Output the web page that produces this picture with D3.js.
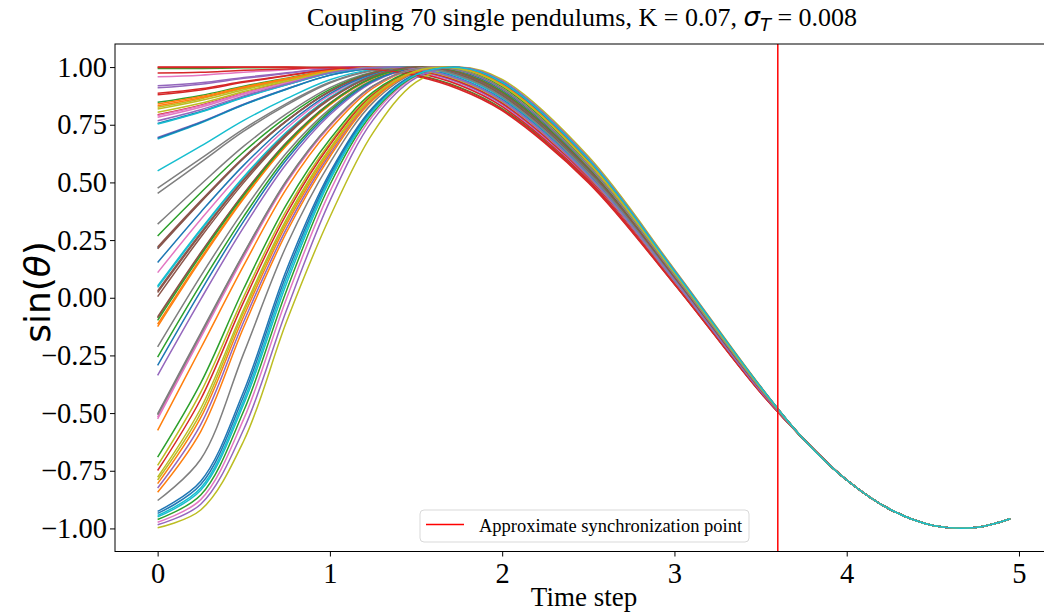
<!DOCTYPE html>
<html>
<head>
<meta charset="utf-8">
<script src="https://cdn.jsdelivr.net/npm/d3@7"></script>
<style>
  html, body { margin: 0; padding: 0; background: #fff; }
  svg { display: block; }
</style>
</head>
<body>
<svg id="chart"></svg>
<script>
// sample times
var headTimes = [0, 0.25, 0.5, 0.75, 1, 1.25, 1.5, 1.75, 2, 2.5, 3, 3.5];
var tailTimes = [3.75, 4, 4.25, 4.5, 4.75, 4.95];

// after ~3.6 every pendulum sits on the same curve
var tailValues = [-0.613, -0.790, -0.917, -0.987, -0.996, -0.958];

// sin(theta) of each pendulum at headTimes (70 rows, plot order)
var pendulumValues = [
  [0.215, 0.416, 0.606, 0.768, 0.895, 0.974, 1.000, 0.969, 0.880, 0.551, 0.087, -0.399],
  [-0.575, -0.219, 0.140, 0.475, 0.729, 0.909, 0.992, 0.988, 0.909, 0.576, 0.101, -0.393],
  [0.847, 0.877, 0.917, 0.952, 0.986, 0.999, 0.989, 0.941, 0.847, 0.525, 0.072, -0.406],
  [0.886, 0.906, 0.937, 0.964, 0.991, 1.000, 0.987, 0.937, 0.843, 0.522, 0.071, -0.406],
  [-0.336, -0.007, 0.306, 0.583, 0.793, 0.935, 0.997, 0.983, 0.900, 0.568, 0.096, -0.395],
  [0.023, 0.275, 0.509, 0.709, 0.863, 0.962, 1.000, 0.974, 0.887, 0.557, 0.090, -0.398],
  [0.109, 0.339, 0.553, 0.736, 0.878, 0.967, 1.000, 0.972, 0.884, 0.554, 0.089, -0.398],
  [-0.213, 0.094, 0.379, 0.630, 0.819, 0.945, 0.998, 0.980, 0.896, 0.564, 0.094, -0.396],
  [-0.727, -0.410, 0.005, 0.382, 0.672, 0.884, 0.986, 0.992, 0.917, 0.583, 0.105, -0.392],
  [0.051, 0.297, 0.525, 0.719, 0.868, 0.964, 1.000, 0.973, 0.886, 0.556, 0.090, -0.398],
  [0.756, 0.807, 0.870, 0.924, 0.974, 0.997, 0.993, 0.947, 0.854, 0.531, 0.075, -0.404],
  [0.840, 0.872, 0.914, 0.950, 0.985, 0.999, 0.989, 0.941, 0.848, 0.526, 0.073, -0.406],
  [-0.257, 0.058, 0.353, 0.613, 0.810, 0.942, 0.998, 0.981, 0.897, 0.565, 0.095, -0.396],
  [-0.749, -0.440, -0.017, 0.366, 0.662, 0.880, 0.985, 0.992, 0.918, 0.584, 0.105, -0.391],
  [0.919, 0.932, 0.955, 0.975, 0.995, 1.000, 0.984, 0.933, 0.839, 0.519, 0.069, -0.407],
  [0.212, 0.414, 0.605, 0.767, 0.894, 0.973, 1.000, 0.969, 0.881, 0.551, 0.087, -0.399],
  [-0.517, -0.165, 0.183, 0.504, 0.746, 0.916, 0.993, 0.987, 0.907, 0.574, 0.100, -0.394],
  [0.475, 0.603, 0.732, 0.843, 0.934, 0.987, 0.999, 0.961, 0.870, 0.543, 0.082, -0.401],
  [0.826, 0.862, 0.907, 0.946, 0.983, 0.999, 0.990, 0.942, 0.849, 0.527, 0.073, -0.405],
  [-0.944, -0.825, -0.445, 0.085, 0.521, 0.815, 0.967, 0.998, 0.933, 0.599, 0.114, -0.387],
  [-0.926, -0.795, -0.405, 0.125, 0.542, 0.826, 0.970, 0.997, 0.931, 0.597, 0.113, -0.388],
  [-0.115, 0.171, 0.435, 0.664, 0.838, 0.953, 0.999, 0.977, 0.892, 0.561, 0.092, -0.397],
  [0.994, 0.994, 0.997, 0.998, 0.998, 0.992, 0.968, 0.913, 0.820, 0.505, 0.061, -0.410],
  [1.000, 1.000, 1.000, 0.999, 0.994, 0.986, 0.960, 0.904, 0.811, 0.499, 0.058, -0.412],
  [-0.825, -0.550, -0.103, 0.303, 0.622, 0.862, 0.980, 0.994, 0.923, 0.588, 0.108, -0.390],
  [-0.083, 0.195, 0.452, 0.675, 0.844, 0.955, 0.999, 0.977, 0.891, 0.560, 0.092, -0.397],
  [0.958, 0.965, 0.978, 0.988, 0.999, 0.998, 0.979, 0.926, 0.832, 0.514, 0.066, -0.408],
  [-0.879, -0.700, -0.240, 0.230, 0.585, 0.846, 0.976, 0.996, 0.927, 0.592, 0.110, -0.389],
  [-0.778, -0.480, -0.049, 0.344, 0.648, 0.874, 0.983, 0.993, 0.920, 0.585, 0.106, -0.391],
  [0.550, 0.657, 0.769, 0.864, 0.945, 0.990, 0.998, 0.958, 0.866, 0.540, 0.080, -0.402],
  [0.153, 0.371, 0.575, 0.749, 0.885, 0.970, 1.000, 0.971, 0.883, 0.553, 0.088, -0.399],
  [-0.806, -0.520, -0.080, 0.321, 0.633, 0.867, 0.982, 0.994, 0.921, 0.587, 0.107, -0.390],
  [-0.691, -0.370, 0.040, 0.407, 0.687, 0.891, 0.988, 0.991, 0.915, 0.581, 0.104, -0.392],
  [0.793, 0.835, 0.888, 0.935, 0.978, 0.998, 0.992, 0.945, 0.852, 0.529, 0.074, -0.405],
  [0.695, 0.762, 0.839, 0.906, 0.965, 0.995, 0.995, 0.951, 0.858, 0.534, 0.077, -0.404],
  [0.005, 0.262, 0.499, 0.704, 0.860, 0.961, 0.999, 0.975, 0.888, 0.557, 0.090, -0.398],
  [0.782, 0.826, 0.882, 0.931, 0.977, 0.998, 0.992, 0.946, 0.853, 0.529, 0.075, -0.405],
  [0.319, 0.491, 0.657, 0.798, 0.911, 0.979, 1.000, 0.966, 0.876, 0.548, 0.085, -0.400],
  [0.818, 0.855, 0.902, 0.943, 0.982, 0.999, 0.991, 0.943, 0.850, 0.527, 0.073, -0.405],
  [0.688, 0.757, 0.836, 0.904, 0.964, 0.995, 0.995, 0.951, 0.859, 0.534, 0.077, -0.404],
  [0.692, 0.760, 0.838, 0.905, 0.965, 0.995, 0.995, 0.951, 0.859, 0.534, 0.077, -0.404],
  [0.832, 0.867, 0.910, 0.948, 0.984, 0.999, 0.990, 0.942, 0.848, 0.526, 0.073, -0.405],
  [0.268, 0.455, 0.633, 0.784, 0.903, 0.976, 1.000, 0.968, 0.878, 0.550, 0.086, -0.400],
  [0.974, 0.977, 0.986, 0.992, 0.999, 0.997, 0.975, 0.922, 0.828, 0.511, 0.065, -0.409],
  [0.910, 0.926, 0.951, 0.972, 0.994, 1.000, 0.985, 0.934, 0.840, 0.520, 0.070, -0.407],
  [0.220, 0.420, 0.609, 0.769, 0.896, 0.974, 1.000, 0.969, 0.880, 0.551, 0.087, -0.399],
  [-0.973, -0.875, -0.525, 0.000, 0.460, 0.790, 0.960, 0.999, 0.938, 0.604, 0.117, -0.386],
  [-0.503, -0.153, 0.193, 0.511, 0.750, 0.918, 0.993, 0.986, 0.906, 0.573, 0.099, -0.394],
  [-0.997, -0.920, -0.620, -0.100, 0.350, 0.715, 0.935, 0.999, 0.946, 0.613, 0.123, -0.384],
  [0.045, 0.292, 0.521, 0.717, 0.867, 0.964, 1.000, 0.974, 0.887, 0.556, 0.090, -0.398],
  [-0.293, 0.029, 0.332, 0.600, 0.802, 0.939, 0.997, 0.982, 0.899, 0.566, 0.095, -0.396],
  [-0.125, 0.163, 0.430, 0.661, 0.836, 0.952, 0.999, 0.978, 0.893, 0.561, 0.092, -0.397],
  [-0.961, -0.855, -0.490, 0.035, 0.490, 0.802, 0.963, 0.998, 0.936, 0.601, 0.116, -0.387],
  [0.880, 0.901, 0.934, 0.962, 0.990, 1.000, 0.987, 0.937, 0.844, 0.523, 0.071, -0.406],
  [-0.984, -0.895, -0.570, -0.050, 0.420, 0.770, 0.953, 0.999, 0.940, 0.606, 0.119, -0.386],
  [-0.088, 0.191, 0.450, 0.673, 0.843, 0.955, 0.999, 0.977, 0.891, 0.560, 0.092, -0.397],
  [0.790, 0.832, 0.887, 0.934, 0.978, 0.998, 0.992, 0.945, 0.852, 0.529, 0.074, -0.405],
  [0.452, 0.587, 0.722, 0.836, 0.931, 0.985, 0.999, 0.962, 0.871, 0.543, 0.083, -0.401],
  [0.804, 0.843, 0.894, 0.938, 0.980, 0.999, 0.991, 0.944, 0.851, 0.528, 0.074, -0.405],
  [0.753, 0.805, 0.868, 0.923, 0.973, 0.997, 0.993, 0.948, 0.855, 0.531, 0.076, -0.404],
  [-0.935, -0.810, -0.425, 0.105, 0.532, 0.821, 0.968, 0.998, 0.932, 0.598, 0.114, -0.388],
  [-0.843, -0.580, -0.127, 0.286, 0.611, 0.857, 0.979, 0.995, 0.924, 0.589, 0.109, -0.390],
  [-0.098, 0.184, 0.444, 0.670, 0.841, 0.954, 0.999, 0.977, 0.892, 0.560, 0.092, -0.397],
  [0.998, 0.998, 0.999, 1.000, 0.997, 0.990, 0.965, 0.910, 0.816, 0.503, 0.060, -0.411],
  [0.767, 0.815, 0.875, 0.927, 0.975, 0.998, 0.993, 0.947, 0.854, 0.530, 0.075, -0.405],
  [0.030, 0.281, 0.513, 0.712, 0.864, 0.963, 1.000, 0.974, 0.887, 0.557, 0.090, -0.398],
  [-0.525, -0.173, 0.177, 0.500, 0.744, 0.915, 0.993, 0.987, 0.907, 0.574, 0.100, -0.394],
  [-0.508, -0.158, 0.190, 0.508, 0.749, 0.917, 0.993, 0.987, 0.907, 0.573, 0.099, -0.394],
  [-0.790, -0.500, -0.062, 0.334, 0.642, 0.871, 0.983, 0.993, 0.920, 0.586, 0.107, -0.391],
  [-0.950, -0.835, -0.460, 0.065, 0.510, 0.811, 0.966, 0.998, 0.934, 0.600, 0.115, -0.387]
];

var syncTime = 3.6;
var xTicks = [0, 1, 2, 3, 4, 5];
var yTicks = [-1, -0.75, -0.5, -0.25, 0, 0.25, 0.5, 0.75, 1];

// Set up SVG size
var width = 1044;
var height = 616;

var svg = d3.select("#chart")
    .attr("width", width)
    .attr("height", height);

// axes box (right edge falls just outside the picture)
var plotLeft = 115, plotRight = 1053, plotTop = 44, plotBottom = 551.5;

// 5% padding round the data, like the plotting library does
var tMax = tailTimes[tailTimes.length - 1];
var x = d3.scaleLinear()
    .domain([-0.05 * tMax, tMax * 1.05])
    .range([plotLeft, plotRight]);
var y = d3.scaleLinear()
    .domain([-1.1, 1.1])
    .range([plotBottom, plotTop]);

var color = d3.scaleOrdinal(d3.schemeCategory10);

svg.append("defs").append("clipPath")
    .attr("id", "plot-clip")
    .append("rect")
    .attr("x", plotLeft)
    .attr("y", plotTop)
    .attr("width", plotRight - plotLeft)
    .attr("height", plotBottom - plotTop);

var line = d3.line()
    .x(function(d) { return x(d[0]); })
    .y(function(d) { return y(d[1]); })
    .curve(d3.curveCatmullRom.alpha(0.5));

var series = pendulumValues.map(function(row) {
    var pts = headTimes.map(function(t, j) { return [t, row[j]]; });
    return pts.concat(tailTimes.map(function(t, j) { return [t, tailValues[j]]; }));
});

// Draw the pendulum curves
svg.append("g")
    .attr("clip-path", "url(#plot-clip)")
    .selectAll("path")
    .data(series)
    .enter().append("path")
        .attr("d", line)
        .attr("fill", "none")
        .attr("stroke", function(d, i) { return color(i % 10); })
        .attr("stroke-width", 1.5);

// synchronization marker
svg.append("line")
    .attr("x1", x(syncTime))
    .attr("x2", x(syncTime))
    .attr("y1", plotTop)
    .attr("y2", plotBottom)
    .attr("stroke", "#ff0000")
    .attr("stroke-width", 1.5);

// frame
svg.append("rect")
    .attr("x", plotLeft)
    .attr("y", plotTop)
    .attr("width", plotRight - plotLeft)
    .attr("height", plotBottom - plotTop)
    .attr("fill", "none")
    .attr("stroke", "#000")
    .attr("stroke-width", 1);

// axes
svg.append("g")
    .attr("transform", "translate(0," + plotBottom + ")")
    .call(d3.axisBottom(x).tickValues(xTicks).tickFormat(d3.format("d")).tickSize(5).tickSizeOuter(0).tickPadding(6));
svg.append("g")
    .attr("transform", "translate(" + plotLeft + ",0)")
    .call(d3.axisLeft(y).tickValues(yTicks).tickFormat(d3.format(".2f")).tickSize(5).tickSizeOuter(0).tickPadding(3));

svg.selectAll(".domain").remove();
svg.selectAll(".tick line").attr("stroke", "#000");
svg.selectAll(".tick text")
    .attr("fill", "#000")
    .style("font-family", "'Liberation Serif', serif")
    .style("font-size", "28.5px");

// axis labels
svg.append("text")
    .attr("x", (plotLeft + plotRight) / 2)
    .attr("y", 606)
    .attr("text-anchor", "middle")
    .style("font-family", "'Liberation Serif', serif")
    .style("font-size", "27px")
    .text("Time step");

var yLabel = svg.append("text")
    .attr("transform", "translate(50,292) rotate(-90)")
    .attr("text-anchor", "middle")
    .style("font-family", "'DejaVu Sans', sans-serif")
    .style("font-size", "36px");
yLabel.append("tspan").text("sin(");
yLabel.append("tspan").style("font-style", "italic").text("θ");
yLabel.append("tspan").text(")");

// title
var title = svg.append("text")
    .attr("x", 582)
    .attr("y", 26)
    .attr("text-anchor", "middle")
    .style("font-family", "'Liberation Serif', serif")
    .style("font-size", "26px");
title.append("tspan").text("Coupling 70 single pendulums, K = 0.07, ");
title.append("tspan")
    .style("font-family", "'DejaVu Sans', sans-serif")
    .style("font-style", "italic")
    .text("σ");
title.append("tspan")
    .attr("dy", 5)
    .style("font-family", "'DejaVu Sans', sans-serif")
    .style("font-style", "italic")
    .style("font-size", "18px")
    .text("T");
title.append("tspan")
    .attr("dy", -5)
    .text(" = 0.008");

// legend
var legend = svg.append("g");
legend.append("rect")
    .attr("x", 420)
    .attr("y", 510)
    .attr("width", 329)
    .attr("height", 32)
    .attr("rx", 4)
    .attr("fill", "#fff")
    .attr("fill-opacity", 0.8)
    .attr("stroke", "#d9d9d9");
legend.append("line")
    .attr("x1", 426)
    .attr("x2", 464)
    .attr("y1", 524.5)
    .attr("y2", 524.5)
    .attr("stroke", "#ff0000")
    .attr("stroke-width", 1.5);
legend.append("text")
    .attr("x", 479)
    .attr("y", 531.5)
    .style("font-family", "'Liberation Serif', serif")
    .style("font-size", "18.5px")
    .text("Approximate synchronization point");
</script>
</body>
</html>
